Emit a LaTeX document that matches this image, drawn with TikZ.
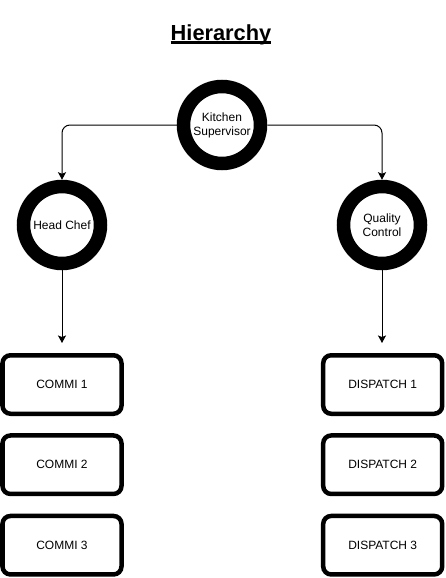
\documentclass[tikz,border=0pt]{standalone}
\usepackage{fontspec}
\setmainfont{Liberation Sans}
\usetikzlibrary{arrows.meta}
\begin{document}
\begin{tikzpicture}[x=1pt,y=-1pt,
  ring/.style={circle,draw=black,line width=13.5pt,minimum size=77pt,inner sep=0pt,
    align=center,font=\fontsize{12}{14}\selectfont},
  staffbox/.style={rectangle,rounded corners=8pt,draw=black,line width=4.5pt,
    minimum width=119pt,minimum height=58.5pt,inner sep=0pt,font=\fontsize{12}{14}\selectfont},
  link/.style={line width=1pt,-{Stealth[length=7.5pt,width=8pt,inset=1.5pt]}},
]
\useasboundingbox (0,0) rectangle (445,578);
\node[inner sep=0pt,anchor=base,font=\fontsize{21.8}{25}\selectfont\bfseries] (title) at (221,41) {Hierarchy};
\draw[line width=2.6pt] ([yshift=-1.6pt]title.base west) -- ([yshift=-1.6pt]title.base east);

\node[ring] (ks) at (222,125) {Kitchen\\Supervisor};
\node[ring] (hc) at (62,225) {Head Chef};
\node[ring] (qc) at (382,225) {Quality\\Control};

\node[staffbox] (c1) at (62,384.5) {COMMI 1};
\node[staffbox] (c2) at (62,464.7) {COMMI 2};
\node[staffbox] (c3) at (62,545.2) {COMMI 3};
\node[staffbox] (d1) at (382.7,384.5) {DISPATCH 1};
\node[staffbox] (d2) at (382.7,464.7) {DISPATCH 2};
\node[staffbox] (d3) at (382.7,545.2) {DISPATCH 3};

\draw[link,rounded corners=8pt] (ks.west) -| (hc.north);
\draw[link,rounded corners=8pt] (ks.east) -| (qc.north);
\draw[link,shorten >=10pt] (hc.south) -- (c1.north);
\draw[link,shorten >=10pt] (qc.south) -- (qc.south |- d1.north);
\end{tikzpicture}
\end{document}
